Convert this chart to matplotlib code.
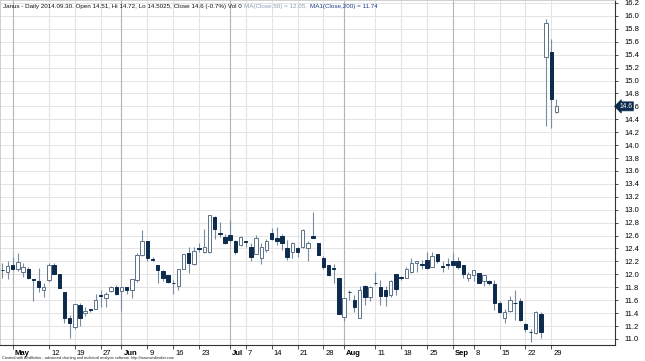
import matplotlib
matplotlib.use("Agg")
import matplotlib.pyplot as plt
import matplotlib.transforms as mtransforms
import numpy as np
import pandas as pd

# trading days, Apr 29 - Sep 30 2014 (NYSE holidays removed)
holidays = ["2014-05-26", "2014-07-04", "2014-09-01"]
days = pd.bdate_range("2014-04-29", "2014-09-30")
days = days[~days.isin(pd.to_datetime(holidays))]

opens = [12.07, 12.03, 12.15, 12.09, 12.03, 12.08, 11.92, 11.90, 11.75, 11.91,
         12.14, 12.00, 11.72, 11.33, 11.19, 11.53, 11.40, 11.46, 11.47, 11.68,
         11.64, 11.74, 11.81, 11.74, 11.80, 11.76, 11.91, 12.30, 12.52, 12.23,
         12.14, 12.05, 11.99, 11.87, 11.82, 12.08, 12.33, 12.16, 12.40, 12.35,
         12.35, 12.89, 12.63, 12.58, 12.61, 12.51, 12.45, 12.52, 12.42, 12.32,
         12.26, 12.38, 12.64, 12.56, 12.59, 12.40, 12.35, 12.40, 12.43, 12.41,
         12.59, 12.48, 12.26, 12.14, 12.10, 11.95, 11.34, 11.73, 11.61, 11.33,
         11.82, 11.65, 11.87, 11.80, 11.75, 11.68, 12.00, 11.95, 11.95, 12.04,
         12.17, 12.16, 12.22, 12.12, 12.31, 12.13, 12.16, 12.21, 12.21, 12.15,
         11.95, 11.99, 12.02, 11.89, 11.89, 11.85, 11.55, 11.33, 11.44, 11.56,
         11.59, 11.23, 11.11, 11.09, 11.39, 15.37, 15.44, 14.51]
highs = [12.17, 12.20, 12.27, 12.33, 12.17, 12.12, 11.92, 12.10, 11.87, 12.17,
         12.17, 12.00, 11.72, 11.37, 11.54, 11.55, 11.49, 11.47, 11.70, 11.76,
         11.72, 11.82, 11.83, 11.80, 11.81, 11.93, 12.33, 12.69, 12.52, 12.27,
         12.14, 12.07, 11.99, 11.91, 12.08, 12.31, 12.43, 12.43, 12.49, 12.70,
         12.92, 12.90, 12.81, 12.63, 12.84, 12.53, 12.59, 12.52, 12.48, 12.61,
         12.48, 12.54, 12.71, 12.73, 12.63, 12.53, 12.50, 12.43, 12.70, 12.52,
         12.97, 12.49, 12.28, 12.14, 12.16, 11.95, 11.64, 11.75, 11.68, 11.82,
         11.83, 11.82, 12.03, 11.91, 11.82, 11.91, 12.00, 11.97, 12.12, 12.25,
         12.20, 12.22, 12.35, 12.35, 12.32, 12.20, 12.26, 12.33, 12.27, 12.15,
         12.04, 12.07, 12.02, 11.99, 11.91, 11.91, 11.58, 11.47, 11.66, 11.76,
         11.63, 11.24, 11.16, 11.43, 11.41, 15.95, 15.65, 14.72]
lows = [11.94, 11.93, 12.07, 12.05, 11.96, 11.92, 11.58, 11.73, 11.65, 11.88,
        12.00, 11.79, 11.25, 11.01, 11.16, 11.20, 11.35, 11.42, 11.46, 11.49,
        11.50, 11.72, 11.68, 11.44, 11.70, 11.64, 11.88, 12.28, 12.20, 12.20,
        11.86, 11.89, 11.86, 11.69, 11.76, 12.08, 12.02, 12.14, 12.34, 12.33,
        12.33, 12.55, 12.58, 12.47, 12.50, 12.32, 12.44, 12.43, 12.20, 12.31,
        12.16, 12.35, 12.53, 12.45, 12.38, 12.22, 12.26, 12.27, 12.41, 12.20,
        12.56, 12.30, 12.09, 11.97, 11.87, 11.39, 11.28, 11.60, 11.42, 11.32,
        11.52, 11.58, 11.83, 11.52, 11.51, 11.65, 11.68, 11.91, 11.94, 12.02,
        12.04, 12.09, 12.09, 12.11, 12.17, 12.03, 12.09, 12.14, 12.09, 11.94,
        11.89, 11.89, 11.86, 11.82, 11.83, 11.45, 11.40, 11.24, 11.42, 11.30,
        11.27, 11.10, 10.96, 11.08, 11.01, 14.30, 14.27, 14.5025]
closes = [12.06, 12.13, 12.09, 12.19, 12.12, 11.95, 11.91, 11.80, 11.80, 12.14,
          12.01, 11.79, 11.33, 11.25, 11.54, 11.33, 11.44, 11.45, 11.61, 11.67,
          11.69, 11.80, 11.69, 11.80, 11.76, 11.93, 12.30, 12.52, 12.26, 12.22,
          12.07, 11.95, 11.88, 11.86, 12.08, 12.31, 12.18, 12.36, 12.39, 12.43,
          12.92, 12.70, 12.62, 12.48, 12.53, 12.35, 12.57, 12.50, 12.27, 12.56,
          12.42, 12.52, 12.54, 12.52, 12.48, 12.27, 12.49, 12.35, 12.68, 12.49,
          12.56, 12.30, 12.12, 11.99, 12.08, 11.39, 11.64, 11.72, 11.50, 11.76,
          11.65, 11.80, 11.86, 11.67, 11.67, 11.89, 11.78, 11.94, 12.09, 12.17,
          12.20, 12.15, 12.10, 12.28, 12.20, 12.12, 12.15, 12.15, 12.12, 12.00,
          12.00, 12.06, 11.86, 11.99, 11.86, 11.55, 11.41, 11.42, 11.61, 11.55,
          11.30, 11.16, 11.10, 11.42, 11.11, 15.89, 14.71, 14.60]

tick_dates = ["2014-05-01", "2014-05-12", "2014-05-19", "2014-05-27", "2014-06-02",
              "2014-06-09", "2014-06-16", "2014-06-23", "2014-07-01", "2014-07-07",
              "2014-07-14", "2014-07-21", "2014-07-28", "2014-08-01", "2014-08-11",
              "2014-08-18", "2014-08-25", "2014-09-02", "2014-09-08", "2014-09-15",
              "2014-09-22", "2014-09-29"]
tick_labels = ["May", "12", "19", "27", "Jun", "9", "16", "23", "Jul", "7", "14",
               "21", "28", "Aug", "11", "18", "25", "Sep", "8", "15", "22", "29"]
month_labels = {"May", "Jun", "Jul", "Aug", "Sep"}

y_ticks = np.round(np.arange(11.0, 16.21, 0.2), 1)

DARK = "#0c2b4d"
OUTLINE = "#5d7288"
WICK = "#7a8ca0"

plt.rcParams["font.family"] = ["Liberation Sans", "DejaVu Sans"]

fig = plt.figure(figsize=(6.45, 3.61), dpi=100)
ax = fig.add_axes([0, 16 / 361, 615 / 645, 345 / 361])

x = np.arange(len(days))
o = np.array(opens)
c = np.array(closes)
up = c > o
body_lo = np.minimum(o, c)
body_h = np.maximum(np.abs(c - o), 0.012)

ax.vlines(x, lows, highs, color=WICK, lw=0.8, zorder=2)
ax.bar(x[up], body_h[up], bottom=body_lo[up], width=0.66, color="white",
       edgecolor=OUTLINE, linewidth=0.7, zorder=3)
ax.bar(x[~up], body_h[~up], bottom=body_lo[~up], width=0.66, color=DARK,
       edgecolor=DARK, linewidth=0.7, zorder=3)

# grid
for yv in y_ticks:
    ax.axhline(yv, color="#e4e4e4", lw=0.7, zorder=0)
pos = {d: i for i, d in enumerate(days.strftime("%Y-%m-%d"))}
tick_x = [pos[d] for d in tick_dates]
for tx, lab in zip(tick_x, tick_labels):
    ax.axvline(tx, color="#b4b4b4" if lab in month_labels else "#e4e4e4",
               lw=0.8, zorder=0)

ax.set_xlim(-0.45, 118.3)
ax.set_ylim(10.906, 16.246)

ax.set_xticks(tick_x)
ax.set_xticklabels(tick_labels)
for t in ax.get_xticklabels():
    t.set_ha("left")
    t.set_fontsize(5.5)
    if t.get_text() in month_labels:
        t.set_fontweight("bold")
ax.tick_params(axis="x", direction="out", length=3, width=0.6, pad=0.5,
               color="#333333")
offset = mtransforms.ScaledTranslation(1.5 / 72, 0, fig.dpi_scale_trans)
for t in ax.get_xticklabels():
    t.set_transform(t.get_transform() + offset)

ax.yaxis.tick_right()
ax.set_yticks(y_ticks)
ax.set_yticklabels([f"{v:.1f}" for v in y_ticks], fontsize=5.5)
ax.tick_params(axis="y", direction="out", length=2.5, width=0.6, pad=4,
               color="#333333")

for s in ["left", "top"]:
    ax.spines[s].set_color("#c8c8c8")
    ax.spines[s].set_linewidth(0.6)
for s in ["right", "bottom"]:
    ax.spines[s].set_color("#333333")
    ax.spines[s].set_linewidth(0.8)

# last price marker on the value axis, drawn over the tick label like AmiBroker
tr = mtransforms.blended_transform_factory(ax.transAxes, ax.transData)
ax.text(1.007, closes[-1], "14.6", transform=tr, color="white", fontsize=4.8,
        va="center", ha="left", zorder=10, clip_on=False,
        bbox=dict(boxstyle="larrow,pad=0.15", fc=DARK, ec=DARK, lw=0.5))

# title line in pieces of different colour
pieces = [("Janus - Daily 2014.09.30. Open 14.51, Hi 14.72, Lo 14.5025, "
           "Close 14.6 (-0.7%) Vol 0 ", "#111111"),
          ("MA(Close,50) = 12.05, ", "#8d9cb8"),
          ("MA1(Close,200) = 11.74", "#1d3b86")]
fig.canvas.draw()
renderer = fig.canvas.get_renderer()
xpos = 3
for txt, col in pieces:
    t = fig.text(xpos / 645, 1 - 6.5 / 361, txt, color=col, fontsize=4.5,
                 va="center", ha="left")
    bb = t.get_window_extent(renderer=renderer)
    xpos = bb.x1 + 1

fig.text(2 / 645, 3 / 361, "Created with AmiBroker - advanced charting and technical "
         "analysis software. http://www.amibroker.com", fontsize=2.7,
         color="#222222", va="center", ha="left")

fig.savefig("out.png", dpi=100)
